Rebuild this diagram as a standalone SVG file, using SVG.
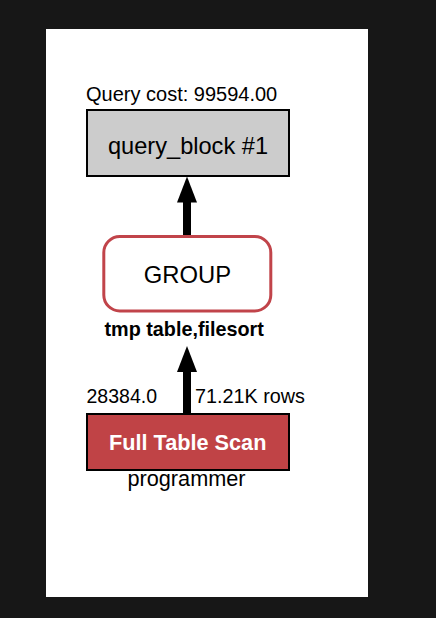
<svg xmlns="http://www.w3.org/2000/svg" width="436" height="618" viewBox="0 0 436 618">
<style>
.t{font-family:"Liberation Sans",Arial,Helvetica,sans-serif;fill:#000}
.b{font-weight:bold}
.shaft{stroke:#000;stroke-width:8;fill:none;marker-end:url(#ah)}
</style>
<defs>
<marker id="ah" markerUnits="userSpaceOnUse" markerWidth="26" markerHeight="20" refX="4.5" refY="10" orient="auto" viewBox="0 0 26 20">
<path d="M0,0 L26,10 L0,20 Z" fill="#000"/>
</marker>
</defs>
<rect x="0" y="0" width="436" height="618" fill="#171717"/>
<rect x="46" y="29" width="322" height="568" fill="#fff"/>
<g id="connectors">
<path class="shaft" d="M187,235 L187,198"/>
<path class="shaft" d="M187,413 L187,367.5"/>
<text class="t" x="86.5" y="402.5" font-size="19.5">28384.0</text>
<text class="t" x="195" y="402.5" font-size="19.8">71.21K rows</text>
</g>
<g id="query_block">
<text class="t" x="86" y="100.5" font-size="20">Query cost: 99594.00</text>
<rect x="87" y="110" width="202" height="66" fill="#cccccc" stroke="#000" stroke-width="2"/>
<text class="t" x="188" y="154" font-size="23.6" text-anchor="middle">query_block #1</text>
</g>
<g id="group">
<rect x="103.8" y="236.5" width="167" height="74.5" rx="16" fill="#fff" stroke="#c1444a" stroke-width="3"/>
<text class="t" x="187.5" y="282.5" font-size="23.8" text-anchor="middle">GROUP</text>
<text class="t b" x="184.2" y="336" font-size="19.8" text-anchor="middle">tmp table,filesort</text>
</g>
<g id="full_table_scan">
<rect x="87" y="414" width="202" height="56" fill="#c04346" stroke="#000" stroke-width="2"/>
<text class="t b" x="187.7" y="449.5" font-size="21.7" text-anchor="middle" style="fill:#fff">Full Table Scan</text>
<text class="t" x="186.5" y="486" font-size="21.7" text-anchor="middle">programmer</text>
</g>
</svg>
